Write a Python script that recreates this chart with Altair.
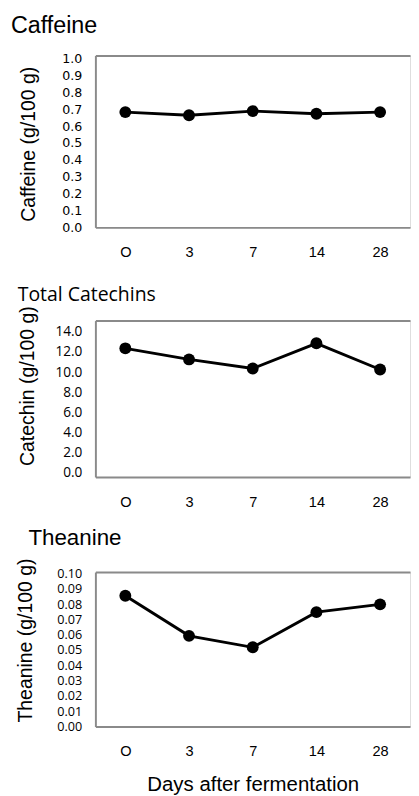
import altair as alt
import pandas as pd

days = ["O", "3", "7", "14", "28"]
caffeine = [0.684, 0.665, 0.690, 0.674, 0.684]
catechins = [12.75, 11.65, 10.75, 13.25, 10.65]
theanine = [0.0855, 0.0593, 0.0518, 0.0748, 0.0799]

caf_ticks = [0.0, 0.1, 0.2, 0.3, 0.4, 0.5, 0.6, 0.7, 0.8, 0.9, 1.0]
cat_ticks = [0.0, 2.0, 4.0, 6.0, 8.0, 10.0, 12.0, 14.0]
the_ticks = [0.00, 0.01, 0.02, 0.03, 0.04, 0.05, 0.06, 0.07, 0.08, 0.09, 0.10]

BORDER = "#8a8a8a"
W = 324


def panel(values, ytitle, domain, ticks, fmt, height, title, tfont, tsize,
          tdx, toffset, lfont, lsize, loffset, ytitle_y, ytitle_x, xtitle=None):
    df = pd.DataFrame({"day": days, "value": values})
    base = alt.Chart(df)
    yaxis = alt.Axis(
        values=ticks, format=fmt, title=ytitle, domain=True, ticks=False,
        grid=False, labelFont=lfont, labelFontSize=lsize, labelColor="black",
        labelPadding=14, labelOffset=loffset, titleFont="Liberation Sans",
        titleFontSize=20, titleFontWeight="normal", titleColor="black",
        titleBaseline="alphabetic", titleX=ytitle_x, titleY=ytitle_y,
        domainColor=BORDER, domainWidth=2,
    )
    y = alt.Y("value:Q", scale=alt.Scale(domain=domain, nice=False, zero=True), axis=yaxis)
    xscale = alt.Scale(type="point", padding=0.47)
    x_top = alt.X("day:N", sort=days, scale=xscale,
                  axis=alt.Axis(orient="top", labels=False, ticks=False, domain=True,
                                title=None, grid=False, domainColor=BORDER, domainWidth=2))
    bottom_kwargs = dict(orient="bottom", ticks=False, domain=True, grid=False,
                         labelFont="Liberation Sans", labelFontSize=15, labelColor="black",
                         labelPadding=18, labelAngle=0, domainColor=BORDER, domainWidth=2)
    if xtitle:
        bottom_kwargs.update(title=xtitle, titleFont="Liberation Sans", titleFontSize=21,
                             titleFontWeight="normal", titleColor="black", titlePadding=16)
    else:
        bottom_kwargs.update(title=None)
    x_bottom = alt.X("day:N", sort=days, scale=xscale, axis=alt.Axis(**bottom_kwargs))
    line = base.mark_line(color="black", strokeWidth=3).encode(x=x_top, y=y)
    pts = base.mark_circle(color="black", size=150, opacity=1).encode(x=x_bottom, y=y)
    return alt.layer(line, pts).resolve_axis(x="independent").properties(
        width=W, height=height,
        title=alt.TitleParams(text=title, anchor="start", frame="group", font=tfont,
                              fontSize=tsize, fontWeight="normal", color="black",
                              baseline="alphabetic", dx=tdx, offset=toffset),
    )


p1 = panel(caffeine, "Caffeine  (g/100 g)", [0, 1.02], caf_ticks, ".1f", 177,
           "Caffeine", "Liberation Sans", 24, -87, -3, "DejaVu Sans", 13, 0, 91, -63)
p2 = panel(catechins, "Catechin (g/100 g)", [0, 15.5], cat_ticks, ".1f", 161,
           "Total Catechins", "Open Sans", 20, -80, -15, "Open Sans", 14, -4, 67, -64)
p3 = panel(theanine, "Theanine (g/100 g)", [0, 0.101], the_ticks, ".2f", 159,
           "Theanine", "Liberation Sans", 23, -69, -10, "Open Sans", 13, 0, 70, -66,
           xtitle="Days after fermentation")

top = alt.vconcat(p1, p2, spacing=25)
chart = alt.vconcat(top, p3, spacing=17).properties(
    padding={"left": 2, "top": -7, "right": 0, "bottom": 0}
).configure_view(stroke=None).configure(background="white")

chart.save("out.html", embed_options={"renderer": "svg", "actions": False})
